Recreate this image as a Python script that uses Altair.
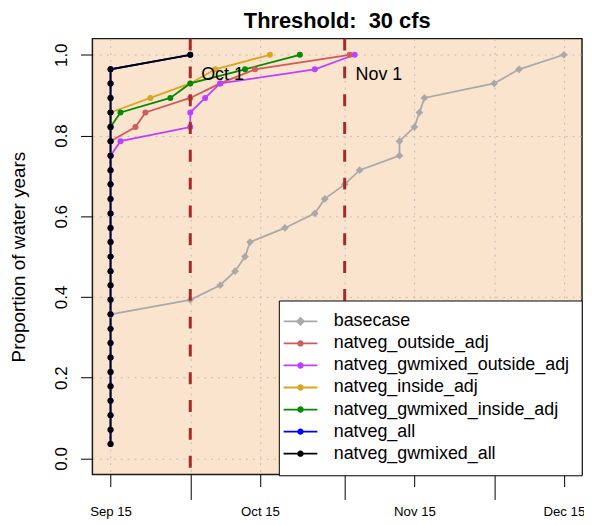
import altair as alt
import pandas as pd

# ---------------- data ----------------
BASE_YEAR = "2001"
START = "09-15"

series_names = ["basecase", "natveg_outside_adj", "natveg_gwmixed_outside_adj",
                "natveg_inside_adj", "natveg_gwmixed_inside_adj", "natveg_all",
                "natveg_gwmixed_all"]
series_colors = ["#A9A9A9", "#CD5C5C", "#BF3EFF", "#DAA520", "#008B00", "#0000FF", "#000000"]

basecase_dates = ["09-15", "10-01", "10-07", "10-10", "10-12", "10-13", "10-20", "10-26",
                  "10-28", "11-01", "11-04", "11-12", "11-12", "11-15", "11-16", "11-17",
                  "12-01", "12-06", "12-15"]
basecase_prop = [0.357, 0.393, 0.429, 0.464, 0.500, 0.536, 0.571, 0.607, 0.643, 0.679,
                 0.714, 0.750, 0.786, 0.821, 0.857, 0.893, 0.929, 0.964, 1.000]

outside_dates = ["09-15", "09-20", "09-22", "10-01", "10-07", "10-14", "11-02"]
outside_prop = [0.786, 0.821, 0.857, 0.893, 0.929, 0.964, 1.000]

gw_outside_dates = ["09-15", "09-17", "10-01", "10-01", "10-04", "10-07", "10-26", "11-03"]
gw_outside_prop = [0.750, 0.786, 0.821, 0.857, 0.893, 0.929, 0.964, 1.000]

inside_dates = ["09-15", "09-23", "10-01", "10-06", "10-17"]
inside_prop = [0.857, 0.893, 0.929, 0.964, 1.000]

gw_inside_dates = ["09-15", "09-17", "09-27", "10-01", "10-12", "10-23"]
gw_inside_prop = [0.821, 0.857, 0.893, 0.929, 0.964, 1.000]

all_dates = ["09-15"] * 27 + ["10-01"]
all_prop = [0.036, 0.071, 0.107, 0.143, 0.179, 0.214, 0.250, 0.286, 0.321, 0.357,
            0.393, 0.429, 0.464, 0.500, 0.536, 0.571, 0.607, 0.643, 0.679, 0.714,
            0.750, 0.786, 0.821, 0.857, 0.893, 0.929, 0.964, 1.000]

gw_all_dates = ["09-15"] * 27 + ["10-01"]
gw_all_prop = [0.036, 0.071, 0.107, 0.143, 0.179, 0.214, 0.250, 0.286, 0.321, 0.357,
               0.393, 0.429, 0.464, 0.500, 0.536, 0.571, 0.607, 0.643, 0.679, 0.714,
               0.750, 0.786, 0.821, 0.857, 0.893, 0.929, 0.964, 1.000]

label_tick_dates = ["09-15", "10-15", "11-15", "12-15"]
label_tick_text = ["Sep 15", "Oct 15", "Nov 15", "Dec 15"]
month_tick_dates = ["10-01", "11-01", "12-01"]
y_ticks = [0.0, 0.2, 0.4, 0.6, 0.8, 1.0]

vline_dates = ["10-01", "11-01"]
vline_labels = ["Oct 1", "Nov 1"]
vline_label_prop = [0.95, 0.95]

title_text = "Threshold:\u00a0 30 cfs"
y_title = "Proportion of water years"

# ---------------- build tables ----------------
def day_offset(md):
    return (pd.Timestamp(f"{BASE_YEAR}-{md}") - pd.Timestamp(f"{BASE_YEAR}-{START}")).days

series_dates = [basecase_dates, outside_dates, gw_outside_dates, inside_dates,
                gw_inside_dates, all_dates, gw_all_dates]
series_props = [basecase_prop, outside_prop, gw_outside_prop, inside_prop,
                gw_inside_prop, all_prop, gw_all_prop]

rows = []
for si, (name, col, dates, props) in enumerate(zip(series_names, series_colors,
                                                   series_dates, series_props)):
    for i, (d, p) in enumerate(zip(dates, props)):
        rows.append({"series": name, "col": col, "sidx": si, "idx": i,
                     "day": day_offset(d), "prop": p})
df = pd.DataFrame(rows)
df_base = df[df.series == "basecase"]
df_other = df[df.series != "basecase"]

label_days = [day_offset(d) for d in label_tick_dates]
month_days = [day_offset(d) for d in month_tick_dates]
label_expr = " : ".join(f"datum.value == {d} ? '{t}'" for d, t in zip(label_days, label_tick_text)) + " : ''"

vl_df = pd.DataFrame({"day": [day_offset(d) for d in vline_dates],
                      "label": vline_labels, "prop": vline_label_prop})

legend_df = pd.DataFrame({"series": series_names,
                          "day": [float("nan")] * len(series_names),
                          "prop": [float("nan")] * len(series_names)})

# R-style 4% axis extension
all_days = df["day"]
span = all_days.max() - all_days.min()
x_dom = [all_days.min() - 0.04 * span, all_days.max() + 0.04 * span]
y_dom = [-0.04, 1.04]

# ---------------- scales / axes ----------------
FONT = "Liberation Sans"
GRID = dict(grid=True, gridColor="#BDBDBD", gridDash=[2, 5], gridWidth=1)

x_scale = alt.Scale(domain=x_dom, nice=False, zero=False)
y_scale = alt.Scale(domain=y_dom, nice=False, zero=False)
color_scale = alt.Scale(domain=series_names, range=series_colors)

circ = "M-0.38,0A0.38,0.38 0 1,1 0.38,0A0.38,0.38 0 1,1 -0.38,0Z"
bar = "M-2,-0.105H2V0.105H-2Z"
diam = "M0,-0.55L0.55,0L0,0.55L-0.55,0Z"
shape_scale = alt.Scale(domain=series_names,
                        range=[bar + diam] + [bar + circ] * (len(series_names) - 1))

axis_labels = alt.Axis(orient="bottom", values=label_days, labelExpr=label_expr,
                       tickSize=12, tickColor="black", labelPadding=18, labelFontSize=13.3,
                       labelColor="black", labelOverlap=False, labelFlush=False,
                       domain=False, title=None, **GRID)
axis_months = alt.Axis(orient="bottom", values=month_days, labels=False,
                       tickSize=25, tickColor="black", domain=False, title=None, **GRID)
y_axis = alt.Axis(values=y_ticks, format=".1f", labelAngle=-90, labelAlign="center",
                  labelBaseline="middle", labelPadding=19, labelFontSize=17, labelColor="black",
                  tickSize=12, tickColor="black", domain=False,
                  title=y_title, titleFontSize=19, titleFontWeight="normal", titleColor="black",
                  titleX=-74, titleY=219.5, titleAngle=-90, titleAlign="center",
                  titleBaseline="middle", **GRID)

legend = alt.Legend(title=None, orient="none", legendX=187.7, legendY=263.7,
                    fillColor="white", strokeColor="black", padding=12,
                    symbolOffset=0.8, labelOffset=24.5, rowPadding=4.2,
                    labelFontSize=18, labelColor="black", labelLimit=400,
                    symbolSize=289, symbolStrokeWidth=0)

Y = alt.Y("prop:Q", scale=y_scale, axis=y_axis, title=y_title)
C = alt.Color("col:N", scale=None)

# ---------------- layers ----------------
lines = alt.Chart(df).mark_line(strokeWidth=1.8).encode(
    x=alt.X("day:Q", scale=x_scale, axis=axis_labels),
    y=Y,
    color=C,
    detail="sidx:N",
    order="idx:Q",
)

base_pts = alt.Chart(df_base).mark_point(shape="diamond", filled=True, size=60, opacity=1).encode(
    x=alt.X("day:Q", scale=x_scale, axis=axis_months),
    y=Y,
    color=C,
)

other_pts = alt.Chart(df_other).mark_point(shape="circle", filled=True, size=36, opacity=1).encode(
    x=alt.X("day:Q", scale=x_scale, axis=None),
    y=Y,
    color=C,
)

vlines = alt.Chart(vl_df).mark_rule(color="#A52A2A", strokeWidth=3, strokeDash=[12, 16]).encode(
    x=alt.X("day:Q", scale=x_scale, axis=None),
)

vtext = alt.Chart(vl_df).mark_text(align="left", baseline="middle", dx=11, fontSize=18,
                                   color="black", font=FONT).encode(
    x=alt.X("day:Q", scale=x_scale, axis=None),
    y=Y,
    text="label:N",
)

legend_layer = alt.Chart(legend_df).mark_point(filled=True, opacity=1, size=289).encode(
    x=alt.X("day:Q", scale=x_scale, axis=None),
    y=Y,
    color=alt.Color("series:N", scale=color_scale, legend=legend),
    shape=alt.Shape("series:N", scale=shape_scale, legend=legend),
)

chart = alt.layer(lines, base_pts, other_pts, vlines, vtext, legend_layer).resolve_axis(
    x="independent"
).properties(
    width=493, height=439,
    title=alt.TitleParams(title_text, fontSize=22, fontWeight="bold", anchor="middle",
                          frame="group", offset=4, color="black", font=FONT),
    autosize=alt.AutoSizeParams(type="none"),
    padding={"left": 85, "top": 29, "right": 2, "bottom": 60},
).configure(
    font=FONT,
).configure_view(
    fill="#FAE4CD", stroke="#1A1A1A", strokeWidth=1.5,
)

chart.save("out.html", embed_options={"renderer": "svg", "actions": False})
